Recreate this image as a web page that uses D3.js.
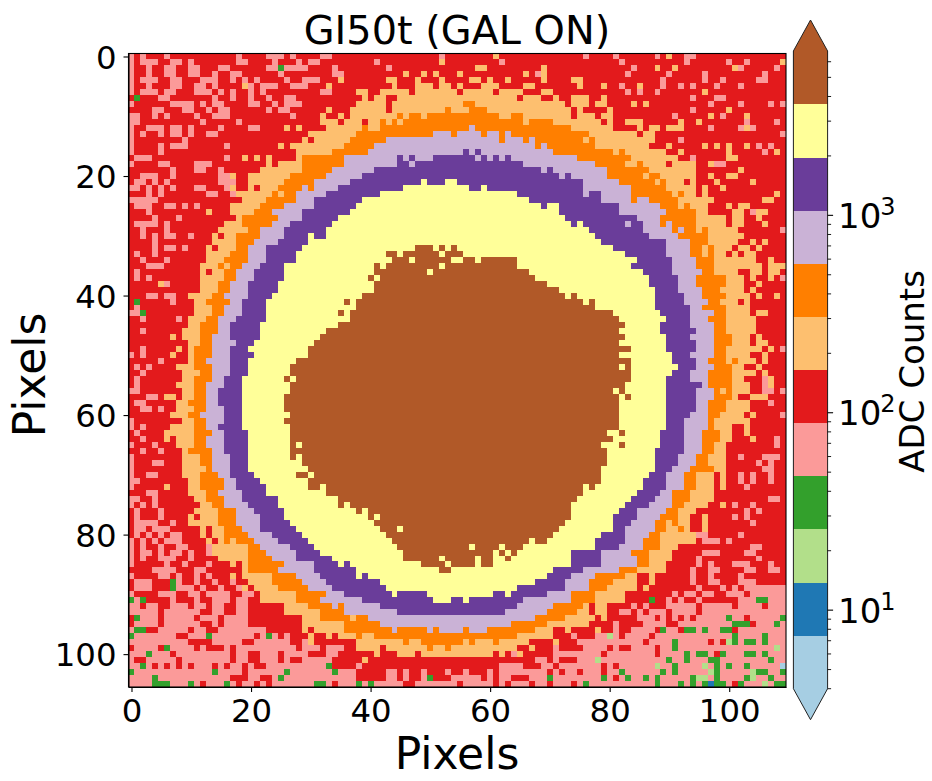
<!DOCTYPE html>
<html>
<head>
<meta charset="utf-8">
<script src="https://cdn.jsdelivr.net/npm/d3@7"></script>
<style>
  body { margin: 0; background: #fff; }
  text { font-family: "DejaVu Sans", sans-serif; fill: #000; }
</style>
</head>
<body>
<svg id="vis"></svg>
<script>
// band letters, low to high, and the Paired colours they stand for
const bandKeys = ["s", "c", "m", "g", "p", "r", "o", "n", "l", "v", "y", "b"];
const bandColors = ["#a6cee3", "#1f78b4", "#b2df8a", "#33a02c", "#fb9a99", "#e31a1c",
  "#fdbf6f", "#ff7f00", "#cab2d6", "#6a3d9a", "#ffff99", "#b15928"];
// ADC count at the edge of each colour band
const bandEdges = [4, 7.43, 13.8, 25.7, 47.7, 88.6, 164.6, 305.9, 568, 1056, 1962, 3645, 6800];
const xTicks = [0, 20, 40, 60, 80, 100];
const yTicks = [0, 20, 40, 60, 80, 100];
const cbarMajor = [10, 100, 1000];
const cbarMinor = [4, 5, 6, 7, 8, 9, 20, 30, 40, 50, 60, 70, 80, 90, 200, 300, 400, 500, 600, 700, 800, 900,
  2000, 3000, 4000, 5000, 6000];
const nCols = 110;

// one string per image row: start column + band letter for each run
const rowRuns = [
"0p 1r 2p 3r 6p 7r 18p 19r 23p 26r 27p 28r 32p 34r 52p 53r 61o 62r 76p 77r 81p 82r 88p 89r 90o 91r 93p 95r",
"0p 1r 2p 5r 7p 9r 10p 11r 18p 20r 24p 25r 28p 29r 30p 32r 41p 42r 52o 53r 62p 63r 82p 83r 93p 94r 100p 101r 103p 104r 109o",
"0p 1r 3p 4r 6p 8r 10p 12r 15p 17r 23p 25g 26p 30r 34p 35r 43p 44r 58o 60r 69o 70r 84p 85r 88o 89r 91o 92r 101o 102p 103r 108p 109r",
"0p 1r 3p 4r 6p 8r 10p 12r 14p 15r 17p 19r 25p 26r 34p 36r 46o 47r 49o 50r 51o 52r 55o 56r 66o 67r 68p 69o 70r 83p 84r 90p 91r 96p 97r 106p 107r",
"0p 1r 2p 5r 7p 9r 12p 15r 17p 18r 19p 20r 21p 22r 26p 27r 29p 32r 35o 36r 43o 45r 48o 49r 52o 53r 57o 59r 60o 61r 63o 64r 69o 70r 74o 76r 89p 90r 96p 97r 99p 100r 105p 107r",
"0p 1r 3p 4r 7p 9r 11p 13r 14p 15r 19o 20p 21r 22p 25r 27p 30r 33o 34r 44o 45r 48o 51r 52o 54r 55o 56r 59o 62r 66o 68r 75o 76r 79o 80r 82p 83r 85o 86r 89p 90r 92p 93r 94p 95r 98p 99r 102p 103r",
"0p 1r 2p 5r 6p 8r 11p 14r 15p 16r 17p 18r 20p 21r 22p 23r 32p 34r 38o 40r 42o 47r 48o 55r 56o 61r 62o 66r 69o 71r 83p 84r 85p 86r 88p 89r 96o 97r",
"0r 1g 2r 5p 7r 14p 15r 17p 18r 20p 21r 23p 24r 26p 28r 39o 40r 41o 43r 45o 65r 66o 69r 71o 72r 74o 77r 79o 80r 94p 95r 98p 100r",
"0p 1r 7p 11r 12p 13r 14p 16r 20p 22r 24p 25r 26p 29r 38o 43r 44o 56n 58o 73r 74o 77r 78o 80r 84o 85r 86o 87r 97p 98r 102p 103r 107p 108r 109p",
"0r 4p 6r 9p 11r 13p 14r 15p 17r 23p 24r 25p 27r 33o 34r 37o 43r 44o 53n 54o 57n 60o 74r 75o 76r 80o 81r 94p 95r 100o 101r",
"0p 2r 4p 5r 6p 7r 11p 12r 14p 17r 27p 28r 32o 33r 35o 36r 37o 45n 46o 47n 49o 50n 62o 64n 66o 74r 75o 78r 79o 81r 91p 92r 97o 98r 99p 100r 103o 104r",
"0p 2r 12p 13r 18p 19r 32o 35r 36o 39r 40o 42n 43o 44n 45o 46n 66o 67n 71o 79r 80o 81r 83o 86r 92o 93r 95o 96r 103p 104r 108p 109r",
"0p 1r 3p 6r 7p 9r 10p 11r 15p 16r 20p 22r 26o 27r 28o 29r 33o 39n 40o 42n 57l 58n 74o 81r 85o 86r 87o 89r 90o 93r 97p 98r 102p 103o 104p 105r",
"0p 1r 2p 3r 5p 6r 7p 9r 10p 11r 13p 15r 30o 38n 51l 54n 55l 59n 60l 62n 63l 64n 77o 85r 86o 88r 109p",
"0p 1r 9p 10r 29o 30r 31o 37n 43l 62n 63l 66n 67l 68n 76o 77n 78o 88r 92p 93r",
"0p 1r 5p 6r 7p 10r 16p 17r 25o 26r 27o 36n 41l 68n 69l 70n 78o 87r 90o 91r 96o 97r 98o 99r 100o 101r 103o 104r 105p 106r 107p 108r",
"0p 1r 5p 6r 28o 34n 40l 56v 57l 58v 59l 71n 81o 82n 83o 90r 92o 93r 100o 101r 106p 107r 108o 109r",
"0r 1p 4r 16p 17r 19o 20r 21o 22r 23o 24r 28o 29n 36l 45v 46l 47v 48l 51v 58l 59v 60l 61v 62l 63v 64l 75n 84o 92r 94p 95r 100o 102r",
"0p 1r 5p 7r 11p 14r 23o 24r 25o 29n 36l 45v 47l 48v 66l 78n 83o 85n 86o 90r 91o 95r 97o 98p 100r",
"0r 7p 8r 11p 13r 15p 16r 22o 29n 34l 41v 69l 70v 71l 80n 87o 95r 102o 103r",
"0r 2p 5r 7p 8r 15p 17o 18r 20o 27n 33l 39v 72l 73v 74l 80n 86o 87n 89o 95r 97o 98r 100o 102r",
"0r 1p 3r 4p 5r 6p 7r 15p 18r 20o 26n 31l 37v 49y 50v 53y 55v 76l 82n 88o 89n 90o 93r 94o 95r 98o 99r 104o 105r",
"0p 2r 3p 4r 5p 6r 7p 8r 11p 13r 16p 17o 18r 20o 21r 22o 25n 29l 30n 31l 35v 46y 57v 59y 60v 76l 84n 90o 95r 96o 97r 99o 100r",
"0r 3p 4r 5p 6r 13p 15r 17p 18o 24n 25o 26n 28l 33v 42y 65v 76l 77v 79l 84n 91o 92n 93o 95r 96o 97r 108o 109r",
"0p 5r 19o 23n 28l 31v 39y 67v 79l 84n 85l 87n 92o 98r 106o 108r",
"0r 1p 4r 6p 8r 9p 10r 11p 12r 17o 22n 26l 31v 38y 69v 70y 72v 82l 89n 92o 93n 94o 97r 100o 101r 102o 104r",
"0r 3p 4r 13o 14r 17o 21n 24l 29v 37y 72v 82l 90n 95o 97r 101o 103r 104p 105o 107r",
"0r 4p 5r 8p 9r 18o 19n 25l 29v 35y 73v 85l 89n 95o 100r 101o 103r 105o 106r",
"0r 1p 5r 6p 7r 16o 19n 24l 27v 34y 74v 75y 76v 83l 84v 86l 89n 90l 91n 95o 100r 101o 103r 106o 107r",
"0r 2p 3r 6p 7r 15o 20n 22l 26v 33y 77v 86l 91n 92l 93n 95o 96n 97o 102r 109p",
"0r 2p 3r 4p 5r 6p 8r 10p 11r 14o 15r 16o 18n 22l 26v 30y 31v 33y 78v 87l 92n 97o 103r",
"0r 4p 5r 14o 18n 21l 25v 30y 79v 90l 94n 97o 102r 104o 105r 106o 107r",
"0r 4p 5r 6p 8r 9p 10r 13o 14r 15o 18n 20l 23v 29y 48b 51y 52b 53y 54b 55y 81v 90l 94n 96o 97n 98o 101r 102o 104r 105o 106r",
"0r 1p 2r 4p 5r 13o 17n 20l 23v 28y 43b 45y 46b 52y 53b 56y 83v 90l 94n 96o 97n 98o 100r 101o 102r 103o 105r",
"0r 2p 3r 6p 7r 13o 16n 20l 23v 28y 44b 47y 48b 54y 56b 58y 59b 65y 85v 91l 95n 98o 105r 107o 108r",
"0r 3p 6r 12o 15n 16o 17n 19l 22v 26y 41b 42y 43b 52y 53b 65y 84v 91l 95n 98o 106r 107o",
"0r 1p 2r 12o 13r 14o 16n 18l 21v 26y 41b 50y 51b 67y 86v 91l 96n 98o 102r 104o 106r 107o 109r",
"0r 1p 2r 3p 4r 12o 16n 18l 21v 26y 40b 41y 42b 68y 87v 92l 95n 100o 103r 104o 105r 107o 108r 109p",
"0r 5o 6p 7r 12o 15n 17l 20v 25y 41b 70y 87v 92l 95n 100o 103r 105o 106r",
"0r 12o 15n 17l 20v 25y 41b 72y 88v 92l 96n 99o 103r 104o 105r",
"0r 3p 5r 6p 8r 10o 14n 16l 20v 24y 39b 73y 74b 75y 88v 93l 96n 100o 104r 105o 106r 108o 109r",
"0r 1g 2r 7p 8r 11o 13n 17l 19v 23y 36b 37y 38b 76y 77b 78y 88v 93l 97n 99o 102r 103o 104r",
"0r 1p 2r 11o 14n 16l 19v 23y 38b 78y 88v 94l 96n 100o 104r",
"0p 2g 3r 11o 14n 16l 19v 23y 35b 36y 37b 81y 89v 94l 98n 100o 104r 105o 107r",
"0r 2p 3r 8p 9r 10o 13n 15l 18v 23y 37b 82y 90v 94l 97n 100o 105r",
"0r 10o 12n 15l 17v 22y 35b 83y 89v 94l 98n 100o 105r",
"0r 2p 3r 9o 12n 15l 17v 22y 33b 82y 89v 95l 98n 100o 105r",
"0r 7o 8r 9o 12n 14l 17v 22y 32b 83y 90v 94l 98n 101o 104r 105o 106r",
"0r 10o 12n 14l 18v 21y 31b 82y 90v 95l 98n 101o 104r 105o 107r",
"0r 2p 3r 8o 9r 10o 11n 14l 17v 20y 30b 84y 90v 95l 98n 100o 106r 107o 108r 109p",
"0p 1r 2p 3r 7o 8r 10o 11n 14l 17v 21y 30b 82y 91v 94l 98n 100o 104r 106o 107r",
"0r 5p 6r 10o 11n 13l 17v 20y 28b 84y 91v 95l 97n 100o 101n 102o 105r 106o 107r",
"0r 1p 2r 3p 4r 8o 11n 14l 17v 20y 27b 82y 83b 84y 92v 95l 98n 101o 103r 105o 106r",
"0r 2p 3r 9o 12n 14l 17v 20y 27b 84y 91v 94l 97n 101o 105r 106o 107r",
"0r 1p 2r 9o 11n 14l 16v 19y 26b 27y 28b 84y 90v 94l 97n 101o 103r 106p 107o 108r",
"0r 1p 2r 8o 11n 13l 16v 19y 27b 83y 90v 96l 97n 101o 104r 106p 107o 108r",
"0p 2r 9o 11n 13l 15v 19y 27b 81y 82b 83y 90v 95l 98n 99o 100n 101o 104r 106p 108r 109p",
"0r 3p 5r 6o 8r 9o 11n 13l 15v 19y 26b 82y 83b 84y 90v 95l 98n 101o 102r 104o 107r",
"0r 1p 3r 8o 10n 13l 15v 19y 26b 82y 90v 95l 97n 100o 104r 107p 108r",
"0r 2p 4r 5p 6r 8o 11n 13l 16v 19y 26b 82y 90v 95l 97n 100o 104r",
"0r 7o 10n 12l 16v 19y 27b 82y 90v 94l 97n 99o 103r 104o 105r 109p",
"0p 1r 9o 11n 13l 16v 19y 26b 82y 90v 93l 97n 98o 104r",
"0p 1r 2p 3r 7o 11n 13l 15v 19y 27b 82y 90v 93l 97n 98o 101r 103o 104r",
"0r 1p 2r 6o 11n 14l 16v 20y 27b 80y 82b 83y 89v 93l 96n 99o 101r 103o 104r",
"0r 2p 3r 6o 7r 8o 11n 13l 16v 20y 27b 81y 89v 93l 96n 99o 101r 104o 105r 108p 109r",
"0p 1r 4p 5r 8o 11n 13l 16v 20y 27b 28y 29b 79y 82b 83y 89v 93l 96n 98o 100r 108p 109r",
"0r 2p 3r 5p 6r 9o 10n 14l 16v 20y 27b 80y 88v 93l 96n 98o 100r",
"0p 1r 9o 12n 14l 17v 20y 27b 28y 29b 80y 88v 92l 95n 97o 100r 102p 103r 106p 109r",
"0p 1r 4p 6r 9o 12n 14l 17v 20y 29b 80y 88v 92l 95n 97o 100r 105p 106r 107p 108r",
"0p 1r 9o 13n 14l 17v 20y 30b 79y 88v 91l 94n 98o 100r 106p 108r",
"0p 1r 3p 5r 9o 12n 15l 17v 21y 28b 30y 31b 79y 87v 90l 93n 95o 98r 99o 100r 102p 103r 104p 105r 107p 108r",
"0p 2r 10o 12n 16l 18v 22y 30b 79y 86v 90l 93n 95o 98r 99o 100r 102p 103r 104p 105r 107p 108r",
"0p 1r 6o 7r 10o 12n 16l 18v 23y 30b 32y 33b 76y 77b 78y 86v 90l 93n 95o 98r 99o 100r 103p 104r",
"0r 3p 5r 10o 13n 15l 19v 23y 33b 76y 85v 89l 91n 94o 98r",
"0p 2r 4p 5r 11o 13n 16l 19v 25y 35b 75y 84v 88l 91n 94o 98r 107p 109r",
"0p 1r 2p 3r 4p 5r 12o 14n 16l 20v 25y 35b 36y 37b 74y 83v 87l 91n 93o 97r 99o 100r 101p 102r 104p 105r",
"0r 1p 2r 5p 6r 11o 15n 18l 21v 26y 38b 39y 40b 74y 82v 85l 90n 92o 95r 103p 104r 105p 106r",
"0r 1p 2r 5p 6r 10o 11r 12o 15n 18l 22v 26y 40b 41y 42b 74y 81v 85l 89n 92o 94r 96o 97r 101p 102r 103p 104r",
"0r 1p 5r 7p 8r 10o 15n 18l 22v 27y 41b 73y 81v 84l 88n 90o 91n 92o 94r 96o 97r 104p 105r",
"0r 1p 3r 4p 7r 12o 13r 14o 16n 19l 22v 28y 42b 45y 46b 72y 81v 83l 88n 90o 92n 93o 94r 96o 97r",
"0r 1p 2r 3p 4r 5p 6r 7p 9r 12o 13r 14o 16n 20l 24v 29y 43b 71y 79v 83l 87n 89o 95p 97r 102p 103r",
"0p 1r 2p 3r 4p 5r 6p 9r 13o 14r 15o 16n 17o 18n 21l 25v 30y 44b 67y 68b 70y 78v 83l 86n 89o 95r 96p 99r 100p 101r",
"0p 1r 2p 3r 5p 6r 8p 10r 13p 14o 20n 22l 27v 31y 45b 57y 58b 62y 63b 66y 78v 82l 86n 89o 92r 104p 106r",
"0p 1r 2p 4r 5p 6r 7p 9r 10p 11r 13p 14o 20n 23l 28v 32y 46b 61y 62b 63y 64b 65y 74v 79l 84n 87o 91r 96p 99r 103p 105r",
"0p 1r 2p 3r 5p 8r 10p 11r 15o 20n 24l 28v 34y 46b 52y 53b 58y 59b 61y 63b 64y 74v 79l 85n 87o 91r 95p 96r 105p 106r",
"0p 1r 6p 7r 9p 10r 13p 14r 17o 18r 19o 20n 26l 31v 35y 36v 37y 49b 53y 54b 58y 59b 61y 74v 79l 85n 87o 90r 95p 96r 97p 98r 101p 104r 107p 108r",
"0r 4p 8r 11p 13r 19o 20n 25l 31v 38y 52b 54y 71v 76l 82n 85o 90r 94p 95r 97p 99r 103p 105r 107p 109r",
"0p 1r 5p 7r 8p 9r 11p 12r 13p 14r 17o 18r 19o 24n 28l 32v 38y 39v 40y 70v 74l 78n 83o 85r 87o 88r 94p 95r 97p 98r 102p 103r",
"0r 1p 4r 7g 8p 9r 11p 12r 14p 15r 17p 18r 20o 24n 29l 33v 42y 68v 73l 77n 81o 85r 87o 88r 94p 95r 97p 99r 102p 105r",
"0r 1p 4r 7g 8p 11r 12p 13r 15p 16r 18p 19o 20r 21o 25n 30l 34v 43y 65v 73l 77n 80o 85r 86o 87r 95p 96r 99p 100r 101p 102r 103p",
"0p 1r 5p 8r 10p 12r 13p 17r 19p 21r 22o 28n 33l 36v 44y 45v 50y 61v 63y 64v 70l 74n 78o 83r 91p 92r 93p 95r 96p 98r 100p 103r 104p",
"0g 1p 2g 3r 7p 8r 11p 12r 14p 17r 18p 20r 22o 28n 32l 39v 51y 54v 56y 57v 66l 74n 78o 83r 87g 88r 90p 91r 92p 93r 95p 96r 102p 105g 107p",
"0p 2r 3p 5r 7p 10r 11p 13r 14p 16r 18p 20r 26o 30n 34l 35n 36l 42v 65l 71n 76o 77r 78o 80r 84p 85r 86p 87r 90p 95r 96p 101r 102p 106r 107p",
"0p 5r 6p 12r 14p 16r 18p 20r 26o 32n 36l 45v 63l 70n 75o 77r 78o 80r 82p 84r 85p 86r 87p 90r 91p 95r 96p",
"0r 1g 2p 5r 6p 11r 12p 15r 16p 20r 29o 32n 37o 38n 40l 68n 73o 78r 79o 80r 85p 88r 89p 90r 91p 92r 93p 94r 95p 100g 101p 103r 104p 109g",
"0r 1p 5r 6p 12r 14p 15r 16p 20r 29o 36n 42l 64n 70o 77r 81p 82r 86p 90r 92p 101g 104r 105p 108g 109p",
"0p 1g 3r 5p 10r 11p 13r 15p 23r 29o 30r 31o 36n 44l 45n 50l 51n 52l 56n 57l 60n 68o 71r 73o 74r 78o 79r 81p 82r 84p 88r 89g 90p 92r 93g 95p 96g 97p 99g 101r 102p",
"0g 1p 8r 10p 13g 14p 21r 22p 23g 24p 25r 26p 27r 30o 31r 33o 34r 35o 38n 39o 41n 65o 71r 74p 75r 78p 80m 81p 82r 83p 87r 88p 101g 102p 106g 107p",
"0p 10r 14p 19r 21p 27r 29p 30o 31r 38o 46n 47o 49n 56o 57n 58o 61n 62o 67r 71o 72r 75p 86r 87p 91g 92p 97r 98p 99r 100m 101g 102p 103g 105p 106g 107p",
"0r 1p 5r 6g 7p 11r 12p 13r 16p 17r 18p 28r 29p 32r 33p 36r 38o 42r 43o 50n 51o 53n 54o 65r 67o 68r 71p 72r 76p 80r 81p 82r 84p 88r 89p 91g 92p 108m 109p",
"0p 3g 4p 7r 8p 17r 18p 20r 22p 25r 26p 30r 33p 35r 41o 42r 45o 48r 49o 61r 62o 63r 64p 65o 66r 71p 79r 80p 88r 89p 93g 94p 95g 97p 98r 99g 100p 103g 105p 106g 107p",
"0p 1r 3p 8r 9p 17r 18p 20r 22p 25r 26p 27r 29p 34r 39o 40r 68p 70r 71p 72r 75p 78m 79p 90g 91p 93g 94p 97g 99p 107g 108p",
"0p 2g 3p 4r 5p 6r 7p 8r 9p 10r 11p 14r 15p 16r 17p 19r 20p 21r 23p 33g 34r 38p 39r 62p 66r 69p 71r 72p 79r 80p 81r 82p 88m 89p 91g 92p 96m 97p 98g 99p 100g 101p 103g 104p 109s",
"0g 1p 14g 15p 19r 20p 26g 27p 34g 35p 38r 43p 45r 46p 47r 49p 50r 53p 54r 56p 57r 60p 61r 62p 70r 71p 72r 73p 75r 76p 79r 80p 82g 83p 89g 90p 91g 92p 97m 98g 99p 104m 105g 107p 109g",
"0p 4g 5p 17r 20p 22r 24p 25g 26p 38r 43p 45r 46p 47r 49p 50g 51r 54p 59r 60p 61r 62p 64r 67p 70g 71p 79g 80p 81r 82p 83g 84p 86g 87p 88g 89p 94g 95m 97p 98g 99p 103g 104m 105p 107g 108p",
"0p 4g 7p 10g 11p 12r 13p 16g 17p 18r 19p 21r 22p 23r 24p 31g 33p 34r 35p 38g 39p 40g 41p 46r 48p 55r 56p 61r 62p 63r 64p 67r 68p 70r 71p 74r 75p 76g 77p 88g 89p 92g 93p 94g 95p 96g 97c 98g 100p 101r 102g 103p 106m 107p 108g"
];

const width = 932;
const height = 781;
const plot = {left: 128.5, right: 786, top: 53.5, bottom: 687};
const cbar = {left: 793.4, right: 827.6, top: 51, bottom: 688.7, tip: 31};

const svg = d3.select("#vis").attr("width", width).attr("height", height);

const x = d3.scaleLinear().domain([-0.5, nCols - 0.5]).range([plot.left, plot.right]);
const y = d3.scaleLinear().domain([-0.5, rowRuns.length - 0.5]).range([plot.top, plot.bottom]);
const color = d3.scaleOrdinal().domain(bandKeys).range(bandColors);

// unpack the run strings into rectangles
const runs = rowRuns.flatMap((line, row) => {
  const parts = line.split(" ").map(s => ({col: parseInt(s), key: s.slice(-1)}));
  return parts.map((p, i) => ({
    row,
    key: p.key,
    start: p.col,
    end: i + 1 < parts.length ? parts[i + 1].col : nCols
  }));
});

svg.append("g").attr("shape-rendering", "crispEdges")
  .selectAll("rect").data(runs).enter().append("rect")
    .attr("x", d => x(d.start - 0.5))
    .attr("y", d => y(d.row - 0.5))
    .attr("width", d => x(d.end - 0.5) - x(d.start - 0.5))
    .attr("height", d => y(d.row + 0.5) - y(d.row - 0.5))
    .attr("fill", d => color(d.key));

// axes
const tickFont = 32.4;
function styleAxis(g) {
  g.selectAll("path").attr("stroke", "#000").attr("stroke-width", 1.1);
  g.selectAll("line").attr("stroke", "#000").attr("stroke-width", 1.1);
  g.selectAll("text").attr("font-size", tickFont).attr("font-family", "DejaVu Sans");
}
svg.append("g").attr("transform", `translate(0,${plot.bottom})`)
  .call(d3.axisBottom(x).tickValues(xTicks).tickSize(5).tickPadding(7).tickSizeOuter(0))
  .call(styleAxis);
svg.append("g").attr("transform", `translate(${plot.left},0)`)
  .call(d3.axisLeft(y).tickValues(yTicks).tickSize(5).tickPadding(7).tickSizeOuter(0))
  .call(styleAxis)
  .call(g => g.selectAll("text").attr("dy", "0.365em"));
svg.append("rect")
  .attr("x", plot.left).attr("y", plot.top)
  .attr("width", plot.right - plot.left).attr("height", plot.bottom - plot.top)
  .attr("fill", "none").attr("stroke", "#000").attr("stroke-width", 1.1);

// labels
svg.append("text").attr("x", 457).attr("y", 44).attr("text-anchor", "middle")
  .attr("font-size", 39.8).text("GI50t (GAL ON)");
svg.append("text").attr("x", 457).attr("y", 768.5).attr("text-anchor", "middle")
  .attr("font-size", 44).text("Pixels");
svg.append("text").attr("transform", "translate(45,375) rotate(-90)").attr("text-anchor", "middle")
  .attr("font-size", 44).text("Pixels");
svg.append("text").attr("transform", "translate(924,371.5) rotate(-90)").attr("text-anchor", "middle")
  .attr("font-size", 34).text("ADC Counts");

// colour bar
const cy = d3.scaleLog().domain([bandEdges[0], bandEdges[bandEdges.length - 1]]).range([cbar.bottom, cbar.top]);
const bands = bandColors.map((c, i) => ({c, lo: bandEdges[i], hi: bandEdges[i + 1]}));
svg.append("g").attr("shape-rendering", "crispEdges")
  .selectAll("rect").data(bands).enter().append("rect")
    .attr("x", cbar.left).attr("width", cbar.right - cbar.left)
    .attr("y", d => cy(d.hi)).attr("height", d => cy(d.lo) - cy(d.hi))
    .attr("fill", d => d.c);

const mid = (cbar.left + cbar.right) / 2;
svg.append("path")
  .attr("d", `M${cbar.left},${cbar.top}L${mid},${cbar.top - cbar.tip}L${cbar.right},${cbar.top}Z`)
  .attr("fill", bandColors[bandColors.length - 1]);
svg.append("path")
  .attr("d", `M${cbar.left},${cbar.bottom}L${mid},${cbar.bottom + cbar.tip}L${cbar.right},${cbar.bottom}Z`)
  .attr("fill", bandColors[0]);
svg.append("path")
  .attr("d", `M${cbar.left},${cbar.top}L${mid},${cbar.top - cbar.tip}L${cbar.right},${cbar.top}` +
    `L${cbar.right},${cbar.bottom}L${mid},${cbar.bottom + cbar.tip}L${cbar.left},${cbar.bottom}Z`)
  .attr("fill", "none").attr("stroke", "#222").attr("stroke-width", 1);

svg.append("g").selectAll("line").data(cbarMinor).enter().append("line")
  .attr("x1", cbar.right).attr("x2", cbar.right + 3.5)
  .attr("y1", d => cy(d)).attr("y2", d => cy(d))
  .attr("stroke", "#000").attr("stroke-width", 0.9);
svg.append("g").selectAll("line").data(cbarMajor).enter().append("line")
  .attr("x1", cbar.right).attr("x2", cbar.right + 5.5)
  .attr("y1", d => cy(d)).attr("y2", d => cy(d))
  .attr("stroke", "#000").attr("stroke-width", 1.1);

const cbarLabels = svg.append("g").selectAll("text").data(cbarMajor).enter().append("text")
  .attr("x", 838).attr("y", d => cy(d) + 12.5).attr("font-size", 34);
cbarLabels.append("tspan").text("10");
cbarLabels.append("tspan").attr("dy", -13).attr("dx", -1).attr("font-size", 24).text(d => Math.round(Math.log10(d)));
</script>
</body>
</html>
